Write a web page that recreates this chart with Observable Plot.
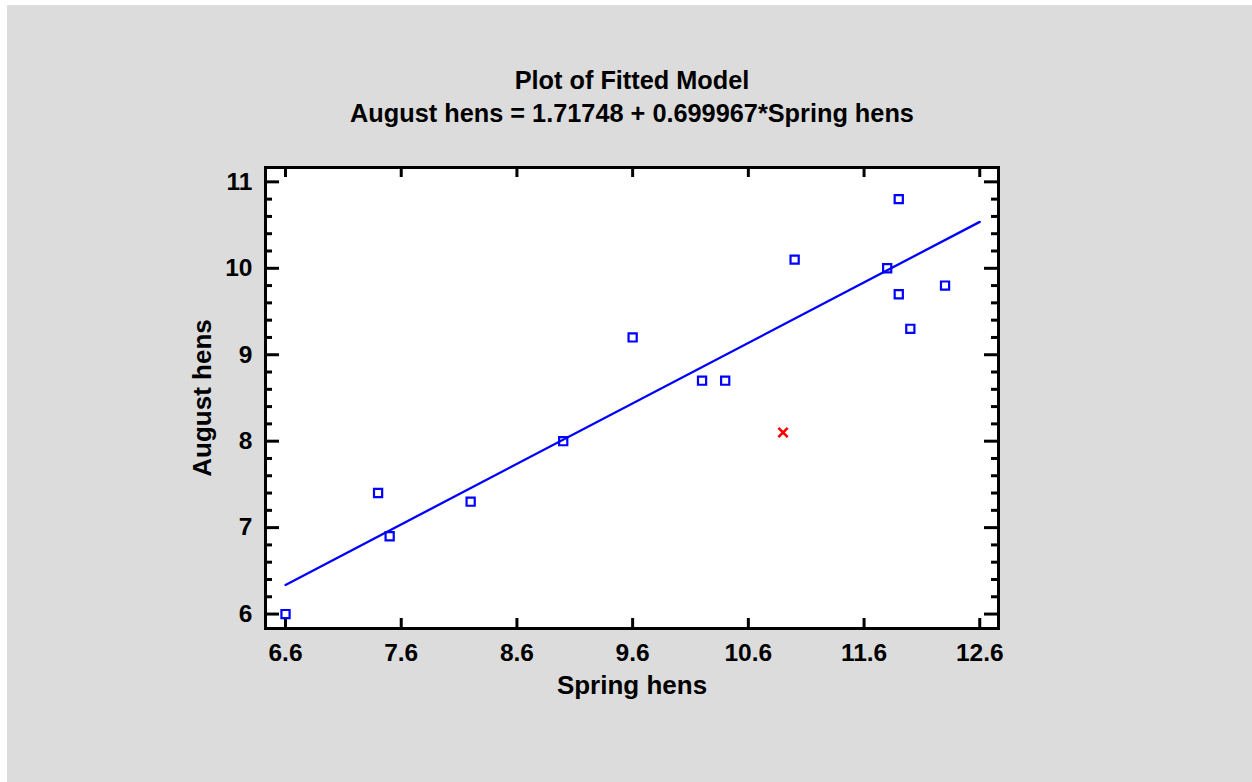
<!DOCTYPE html>
<html>
<head>
<meta charset="utf-8">
<script src="https://cdn.jsdelivr.net/npm/d3@7"></script>
<script src="https://cdn.jsdelivr.net/npm/@observablehq/plot@0.6"></script>
<style>
  html, body { margin: 0; padding: 0; background: #ffffff; width: 1252px; height: 782px; overflow: hidden; }
  #bg { position: absolute; left: 7px; top: 5px; right: 0; bottom: 0; background: #dcdcdc; }
  #chart { position: absolute; left: 0; top: 0; }
  #chart svg { background: transparent; }
</style>
</head>
<body>
<div id="bg"></div>
<div id="chart"></div>
<script>
// Data
const springHens = [6.6, 7.4, 7.5, 8.2, 9.0, 9.6, 10.2, 10.4, 11.0, 11.8, 11.9, 11.9, 12.0, 12.3];
const augustHens = [6.0, 7.4, 6.9, 7.3, 8.0, 9.2, 8.7, 8.7, 10.1, 10.0, 10.8, 9.7, 9.3, 9.8];
// Excluded point (red x)
const excludedSpring = [10.9];
const excludedAugust = [8.1];
// Fitted model
const intercept = 1.71748;
const slope = 0.699967;
const fitRange = [6.6, 12.6];
// Ticks
const xTicks = [6.6, 7.6, 8.6, 9.6, 10.6, 11.6, 12.6];
const yTicks = [6, 7, 8, 9, 10, 11];
const yMinorTicks = [6.2, 6.4, 6.6, 6.8, 7.2, 7.4, 7.6, 7.8, 8.2, 8.4, 8.6, 8.8, 9.2, 9.4, 9.6, 9.8, 10.2, 10.4, 10.6, 10.8];
const titleLines = ["Plot of Fitted Model", "August hens = 1.71748 + 0.699967*Spring hens"];
const xLabel = "Spring hens";
const yLabel = "August hens";

const points = springHens.map((x, i) => ({x, y: augustHens[i]}));
const excluded = excludedSpring.map((x, i) => ({x, y: excludedAugust[i]}));
const fit = fitRange.map(x => ({x, y: intercept + slope * x}));

const W = 1252, H = 782;
const mL = 265, mR = 254, mT = 167, mB = 154;
const innerW = W - mL - mR, innerH = H - mT - mB;
const font = "'Liberation Sans', Arial, sans-serif";

const chart = Plot.plot({
  width: W,
  height: H,
  marginLeft: mL,
  marginRight: mR,
  marginTop: mT,
  marginBottom: mB,
  style: {fontFamily: font, background: "transparent", overflow: "visible"},
  x: {domain: [6.427, 12.762]},
  y: {domain: [5.833, 11.166]},
  marks: [
    Plot.frame({fill: "white", stroke: null}),
    // y major ticks (left and right, inward)
    Plot.tickY(yTicks, {y: d => d, stroke: "black", strokeWidth: 3, insetRight: innerW - 14}),
    Plot.tickY(yTicks, {y: d => d, stroke: "black", strokeWidth: 3, insetLeft: innerW - 14}),
    // y minor ticks
    Plot.tickY(yMinorTicks, {y: d => d, stroke: "black", strokeWidth: 3, insetRight: innerW - 7}),
    Plot.tickY(yMinorTicks, {y: d => d, stroke: "black", strokeWidth: 3, insetLeft: innerW - 7}),
    // x major ticks (bottom and top, inward)
    Plot.tickX(xTicks, {x: d => d, stroke: "black", strokeWidth: 3, insetTop: innerH - 10}),
    Plot.tickX(xTicks, {x: d => d, stroke: "black", strokeWidth: 3, insetBottom: innerH - 10}),
    Plot.axisX({ticks: xTicks, tickSize: 0, tickPadding: 15, tickFormat: d => d.toFixed(1), fontSize: 24.5, fontWeight: "bold", fill: "black", label: null}),
    Plot.axisY({ticks: yTicks, tickSize: 0, tickPadding: 13, tickFormat: d => String(d), fontSize: 24.5, fontWeight: "bold", fill: "black", label: null}),
    // fitted line
    Plot.line(fit, {x: "x", y: "y", stroke: "#0000ff", strokeWidth: 2.3}),
    // observations
    Plot.dot(points, {x: "x", y: "y", symbol: "square", r: 4.6, stroke: "#0000ff", strokeWidth: 2.2, fill: "none"}),
    Plot.dot(excluded, {x: "x", y: "y", symbol: "times", r: 4.3, stroke: "#ff0000", strokeWidth: 2.6}),
    Plot.frame({stroke: "black", strokeWidth: 3}),
    // titles
    Plot.text([titleLines[0]], {text: d => d, frameAnchor: "top", dy: -87, lineAnchor: "middle", fontSize: 25.3, fontWeight: "bold", fill: "black"}),
    Plot.text([titleLines[1]], {text: d => d, frameAnchor: "top", dy: -54, lineAnchor: "middle", fontSize: 25.3, fontWeight: "bold", fill: "black"}),
    // axis labels
    Plot.text([xLabel], {text: d => d, frameAnchor: "bottom", dy: 57, lineAnchor: "middle", textAnchor: "middle", fontSize: 26, fontWeight: "bold", fill: "black"}),
    Plot.text([yLabel], {text: d => d, frameAnchor: "left", dx: -63, rotate: -90, lineAnchor: "middle", textAnchor: "middle", fontSize: 26, fontWeight: "bold", fill: "black"})
  ]
});
document.getElementById("chart").appendChild(chart);
</script>
</body>
</html>
